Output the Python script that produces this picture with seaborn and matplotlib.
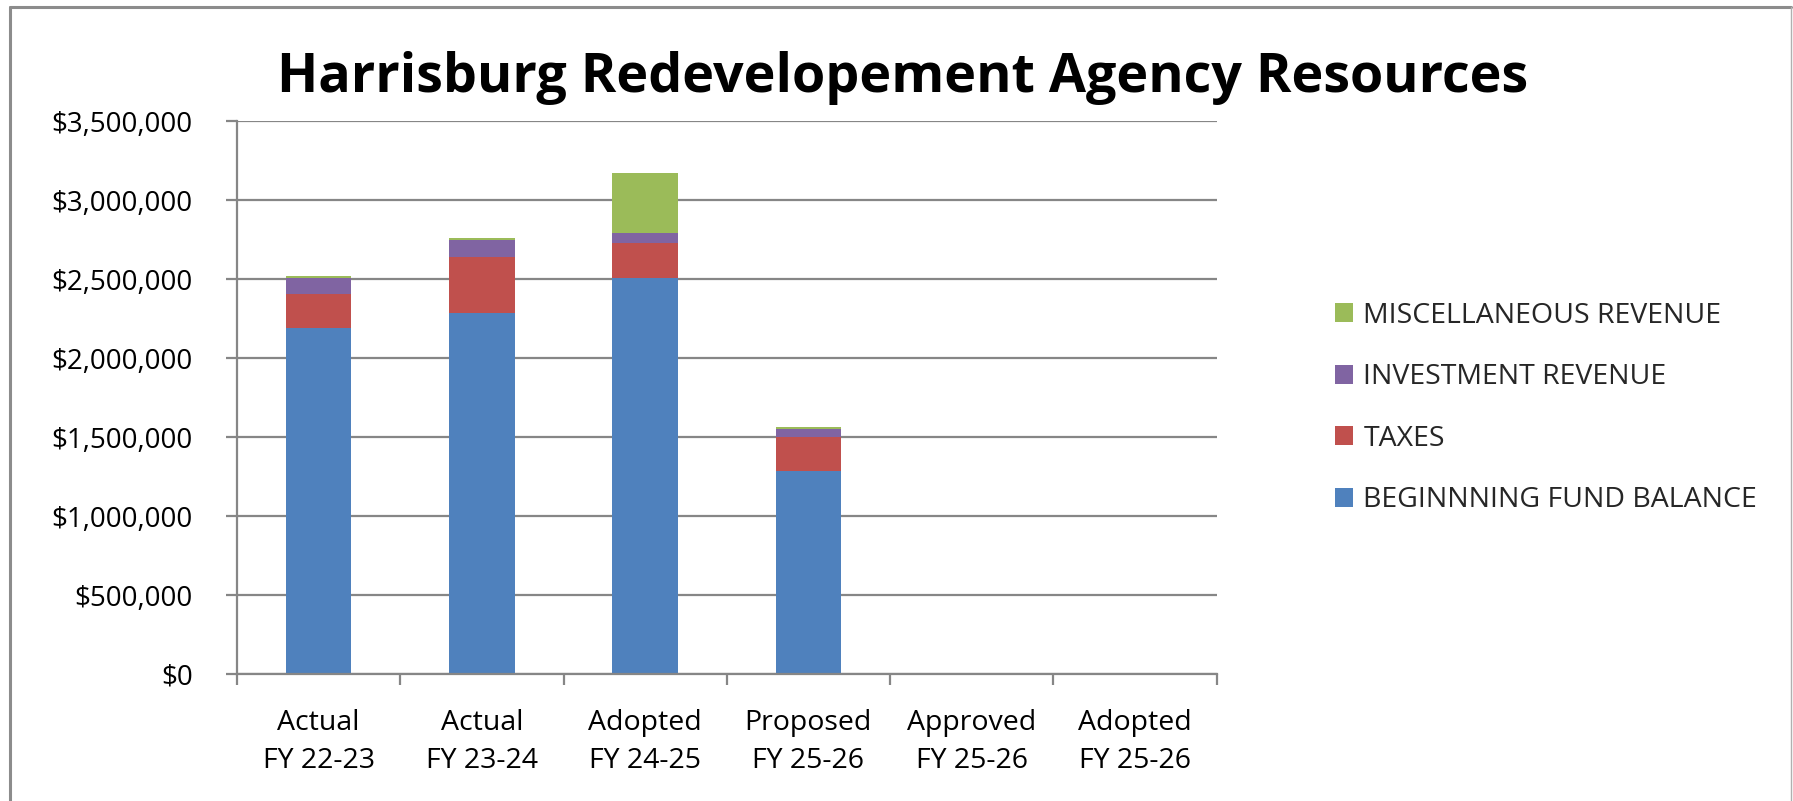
import matplotlib
matplotlib.use('Agg')
import matplotlib.pyplot as plt
from matplotlib.lines import Line2D
from matplotlib.ticker import FuncFormatter, FixedLocator
import numpy as np
import pandas as pd
import seaborn as sns

# ---- data ----
periods = ['Actual\nFY 22-23', 'Actual\nFY 23-24', 'Adopted\nFY 24-25',
           'Proposed\nFY 25-26', 'Approved\nFY 25-26', 'Adopted\nFY 25-26']
beginning_fund = [2189000, 2286000, 2507000, 1284000, 0, 0]
taxes = [216000, 355000, 226000, 218000, 0, 0]
investment = [105000, 109000, 58000, 51000, 0, 0]
miscellaneous = [12000, 12000, 381000, 10000, 0, 0]

series_names = ['MISCELLANEOUS REVENUE', 'INVESTMENT REVENUE', 'TAXES', 'BEGINNNING FUND BALANCE']
COLORS = {'BEGINNNING FUND BALANCE': '#4F81BD', 'TAXES': '#C0504D',
          'INVESTMENT REVENUE': '#8064A2', 'MISCELLANEOUS REVENUE': '#9BBB59'}
GRID = '#868686'

df = pd.DataFrame({'period': periods, 'BEGINNNING FUND BALANCE': beginning_fund,
                   'TAXES': taxes, 'INVESTMENT REVENUE': investment,
                   'MISCELLANEOUS REVENUE': miscellaneous})
# cumulative tops for stacking (drawn tallest first)
df['top_BEGINNNING FUND BALANCE'] = df['BEGINNNING FUND BALANCE']
df['top_TAXES'] = df['top_BEGINNNING FUND BALANCE'] + df['TAXES']
df['top_INVESTMENT REVENUE'] = df['top_TAXES'] + df['INVESTMENT REVENUE']
df['top_MISCELLANEOUS REVENUE'] = df['top_INVESTMENT REVENUE'] + df['MISCELLANEOUS REVENUE']

sns.set_style('white')
plt.rcParams['font.family'] = ['Open Sans', 'DejaVu Sans']

fig = plt.figure(figsize=(17.93, 8.01), dpi=100)
ax = fig.add_axes([237 / 1793, 1 - 674 / 801, (1216.5 - 237) / 1793, (674 - 121.5) / 801])

for name in series_names:
    sns.barplot(data=df, x='period', y='top_' + name, order=periods, color=COLORS[name],
                saturation=1, width=0.4, linewidth=0, errorbar=None, label=name, ax=ax)

ax.set_xlim(-0.5, len(periods) - 0.5)
ax.set_ylim(0, 3500000)
ax.set_yticks(np.arange(0, 3500001, 500000))
ax.yaxis.set_major_formatter(FuncFormatter(lambda v, p: f'${v:,.0f}'))
ax.set_xlabel('')
ax.set_ylabel('')

ax.set_axisbelow(True)
ax.yaxis.grid(True, color=GRID, linewidth=1.6)
ax.xaxis.grid(False)
for s in ['top', 'right']:
    ax.spines[s].set_visible(False)
for s in ['left', 'bottom']:
    ax.spines[s].set_color(GRID)
    ax.spines[s].set_linewidth(1.6)

ax.tick_params(axis='y', which='major', left=True, length=8, width=1.6, color=GRID,
               pad=24, labelsize=20, labelcolor='black')
ax.tick_params(axis='x', which='major', bottom=False, pad=22, labelsize=20.5, labelcolor='black')
ax.xaxis.set_minor_locator(FixedLocator(np.arange(-0.5, len(periods), 1.0)))
ax.tick_params(axis='x', which='minor', bottom=True, length=8, width=1.6, color=GRID)
for lbl in ax.get_xticklabels():
    lbl.set_linespacing(1.45)

fig.text(903 / 1793, 1 - 78 / 801, 'Harrisburg Redevelopement Agency Resources',
         ha='center', va='center', fontsize=38.8, fontweight='bold', color='black')

handles, labels = ax.get_legend_handles_labels()
ax.legend(handles, labels, loc='center left', bbox_to_anchor=(1335 / 1793, 1 - 408 / 801),
          bbox_transform=fig.transFigure, frameon=False, fontsize=20.5, borderpad=0,
          borderaxespad=0, handlelength=0.64, handleheight=0.64, handletextpad=0.36,
          labelspacing=1.18)

# outer chart-area border
fig.add_artist(Line2D([9.5 / 1793, 9.5 / 1793], [0, 1 - 7 / 801], transform=fig.transFigure,
                      color='#8c8c8c', linewidth=2.2))
fig.add_artist(Line2D([9.5 / 1793, 1791 / 1793], [1 - 7 / 801, 1 - 7 / 801],
                      transform=fig.transFigure, color='#8c8c8c', linewidth=2.2))
fig.add_artist(Line2D([1791 / 1793, 1791 / 1793], [0, 1 - 7 / 801], transform=fig.transFigure,
                      color='#b0b0b0', linewidth=1.0))

fig.savefig('out.png', dpi=100)
